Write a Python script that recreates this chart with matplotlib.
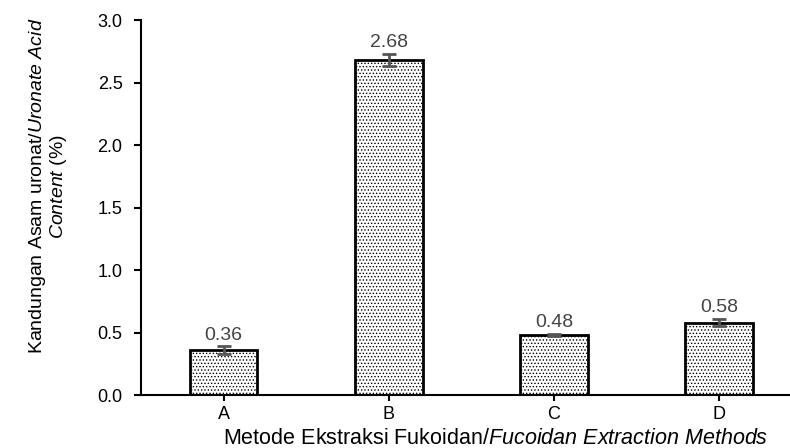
import numpy as np
import matplotlib.pyplot as plt

plt.rcParams['font.family'] = 'Liberation Sans'
plt.rcParams['mathtext.fontset'] = 'custom'
plt.rcParams['mathtext.rm'] = 'Liberation Sans'
plt.rcParams['mathtext.it'] = 'Liberation Sans:italic'
plt.rcParams['hatch.linewidth'] = 0.6
plt.rcParams['hatch.color'] = '#555555'

methods = ['A', 'B', 'C', 'D']
uronate = [0.36, 2.68, 0.48, 0.58]
err = [0.03, 0.05, 0.01, 0.03]
labels = ['0.36', '2.68', '0.48', '0.58']

fig = plt.figure(figsize=(7.9, 4.48), dpi=100)
ax = fig.add_axes([0.178, 0.118, 0.822, 0.837])

x = np.arange(len(methods))
ax.bar(x, uronate, width=0.41, color='white', edgecolor='black',
       linewidth=2, hatch='.....', zorder=2)
ax.errorbar(x, uronate, yerr=err, fmt='none', ecolor='#555555',
            elinewidth=2, capsize=5, capthick=2, zorder=3)
for xi, v, e, t in zip(x, uronate, err, labels):
    ax.text(xi, v + e + 0.02, t, ha='center', va='bottom', fontsize=14, color='#444444')

ax.set_xlim(-0.502, 3.43)
ax.set_ylim(0, 3.0)
ax.set_yticks(np.arange(0, 3.01, 0.5))
ax.set_yticklabels(['%.1f' % v for v in np.arange(0, 3.01, 0.5)], fontsize=13)
ax.set_xticks(x)
ax.set_xticklabels(methods, fontsize=13)
ax.tick_params(axis='y', length=5, width=1.5, pad=8)
ax.tick_params(axis='x', length=4, width=1.5, pad=4)
for s in ['top', 'right']:
    ax.spines[s].set_visible(False)
ax.spines['left'].set_linewidth(1.5)
ax.spines['bottom'].set_linewidth(1.5)

ax.set_xlabel(r'Metode Ekstraksi Fukoidan/$\mathit{Fucoidan\ Extraction\ Methods}$',
              fontsize=15.5)
ax.xaxis.set_label_coords(0.546, -0.088)
ax.set_ylabel('Kandungan Asam uronat/$\\mathit{Uronate\\ Acid}$\n$\\mathit{Content}$ (%)',
              fontsize=14, linespacing=1.0)
ax.yaxis.set_label_coords(-0.11, 0.557)

fig.savefig('out.png', dpi=100)
